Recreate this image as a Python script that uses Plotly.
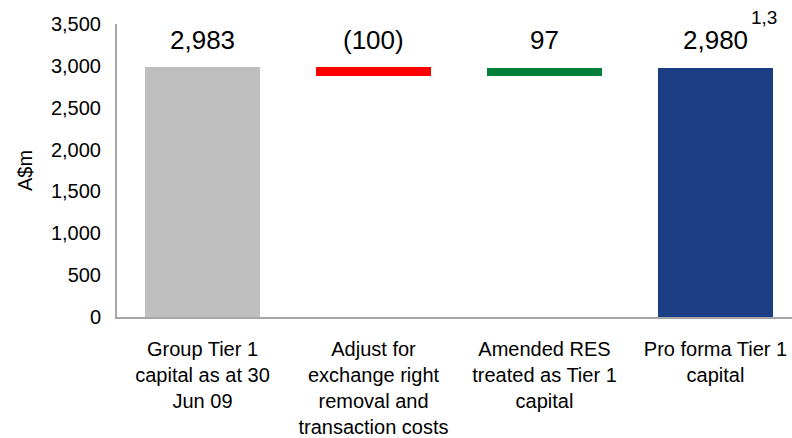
import plotly.graph_objects as go

categories = [
    "Group Tier 1<br>capital as at 30<br>Jun 09",
    "Adjust for<br>exchange right<br>removal and<br>transaction costs",
    "Amended RES<br>treated as Tier 1<br>capital",
    "Pro forma Tier 1<br>capital",
]
values = [2983, -100, 97, 2980]
measures = ["absolute", "relative", "relative", "total"]
value_labels = ["2,983", "(100)", "97", "2,980"]
colors = ["#BFBFBF", "#FF0000", "#00803A", "#1B3D84"]
y_ticks = [0, 500, 1000, 1500, 2000, 2500, 3000, 3500]

# compute waterfall bases/heights
bases, heights = [], []
running = 0
for v, m in zip(values, measures):
    if m == "absolute":
        bases.append(0); heights.append(v); running = v
    elif m == "total":
        bases.append(0); heights.append(running)
    else:
        new = running + v
        bases.append(min(running, new)); heights.append(abs(v)); running = new

xs = list(range(len(categories)))
fig = go.Figure()
fig.add_trace(go.Bar(
    x=xs, y=heights, base=bases, marker=dict(color=colors, line=dict(width=0)),
    width=0.67, hoverinfo="skip", showlegend=False,
))

font_family = "Liberation Sans, Arial, sans-serif"
annotations = []
for x, lab in zip(xs, value_labels):
    annotations.append(dict(x=x, y=3310, text=lab, showarrow=False, xref="x", yref="y",
                            font=dict(size=26, color="#000000", family=font_family),
                            xanchor="center", yanchor="middle"))
annotations.append(dict(x=3, y=3310, text="1,3", showarrow=False, xref="x", yref="y",
                        xshift=48, yshift=22,
                        font=dict(size=19, color="#000000", family=font_family),
                        xanchor="center", yanchor="middle"))

fig.update_layout(
    width=792, height=438,
    margin=dict(l=117, r=0, t=24, b=121),
    paper_bgcolor="white", plot_bgcolor="white",
    font=dict(family=font_family, color="#000000", size=20),
    annotations=annotations,
    bargap=0,
    xaxis=dict(
        range=[-0.5, -0.5 + 675 / 171], tickmode="array", tickvals=xs, ticktext=categories,
        showline=True, linecolor="#A6A6A6", linewidth=2, showgrid=False, zeroline=False,
        ticks="", tickfont=dict(size=20), tickangle=0, ticklabelstandoff=13,
    ),
    yaxis=dict(
        range=[0, 3500], tickmode="array", tickvals=y_ticks,
        ticktext=[f"{t:,}" for t in y_ticks],
        showline=True, linecolor="#A6A6A6", linewidth=2, showgrid=False, zeroline=False,
        ticks="", tickfont=dict(size=20), ticklabelstandoff=10,
        title=dict(text="A$m", font=dict(size=20), standoff=13),
    ),
)

fig.write_html("out.html")
